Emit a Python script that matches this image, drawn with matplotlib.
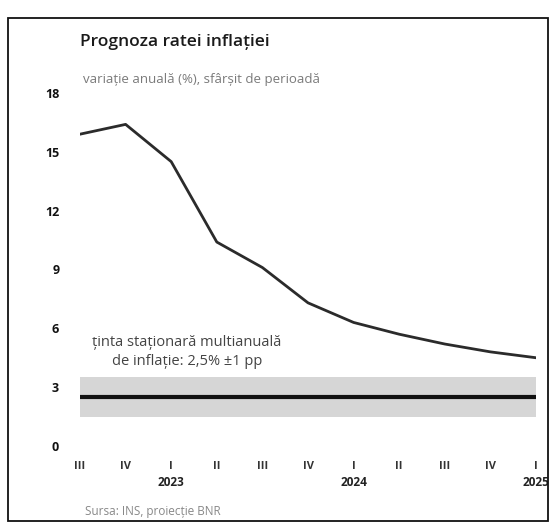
import matplotlib.pyplot as plt
from matplotlib.patches import Rectangle

# quarters: III 2022 .. I 2025
quarters = ["III", "IV", "I", "II", "III", "IV", "I", "II", "III", "IV", "I"]
years = {2: "2023", 6: "2024", 10: "2025"}
forecast = [15.9, 16.4, 14.5, 10.4, 9.1, 7.3, 6.3, 5.7, 5.2, 4.8, 4.5]
target = 2.5
band = 1.0
yticks = [0, 3, 6, 9, 12, 15, 18]

plt.rcParams["font.family"] = ["Open Sans", "DejaVu Sans"]

fig = plt.figure(figsize=(5.51, 5.25), dpi=100)
W, H = 551, 525


def fx(px):
    return px / W


def fy(py):
    return 1 - py / H


ax = fig.add_axes([fx(80), fy(446), fx(536) - fx(80), fy(93) - fy(446)])
x = list(range(len(quarters)))

ax.fill_between(x, target - band, target + band, color="#d6d6d6", lw=0, zorder=1)
ax.plot(x, [target] * len(x), color="#111111", lw=3, solid_capstyle="butt", zorder=2)
ax.plot(x, forecast, color="#2b2b2b", lw=2, zorder=3)

ax.set_xlim(0, 10)
ax.set_ylim(0, 18)
ax.set_yticks(yticks)
ax.set_yticklabels([str(v) for v in yticks], fontsize=9, fontweight="bold", color="#111111")
ax.set_xticks(x)
ax.set_xticklabels(quarters, fontsize=8, fontweight="bold", color="#333333")
ax.tick_params(axis="y", length=0, pad=15)
ax.tick_params(axis="x", length=0, pad=11)
for s in ax.spines.values():
    s.set_visible(False)

for i, yr in years.items():
    ax.text(i, -0.085, yr, transform=ax.get_xaxis_transform(), ha="center", va="top",
            fontsize=8.5, fontweight="bold", color="#222222")

ax.text(2.35, 4.8, "ținta staționară multianuală\nde inflație: 2,5% ±1 pp", ha="center",
        va="center", fontsize=10.5, color="#444444", linespacing=1.35)

fig.text(fx(80), fy(42), "Prognoza ratei inflației", fontsize=12.5, color="#1a1a1a",
         ha="left", va="center", fontweight="semibold")
fig.text(fx(83), fy(79), "variație anuală (%), sfârșit de perioadă", fontsize=9.5,
         color="#7a7a7a", ha="left", va="center")
fig.text(fx(85), fy(511), "Sursa: INS, proiecție BNR", fontsize=8.5, color="#888888",
         ha="left", va="center")

fig.patches.append(Rectangle((fx(8), fy(521)), fx(548) - fx(8), fy(18) - fy(521),
                             transform=fig.transFigure, fill=False, ec="#111111", lw=1.3))

fig.savefig("out.png", dpi=100, facecolor="white")
